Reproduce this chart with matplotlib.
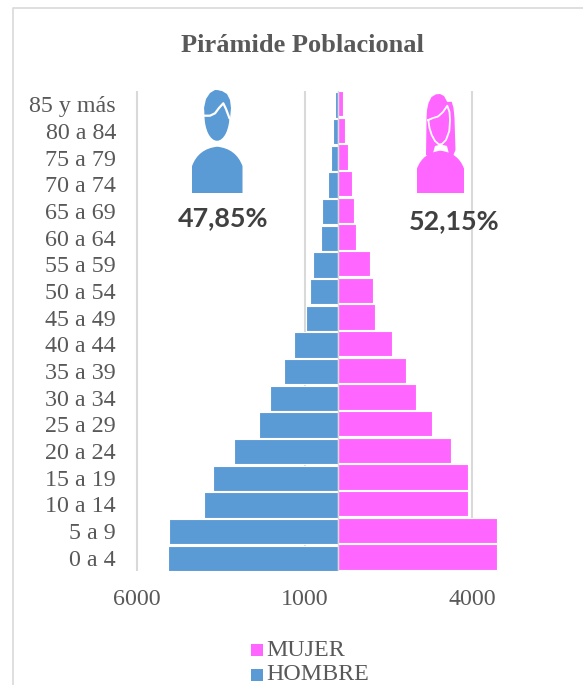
import matplotlib
matplotlib.use("Agg")
import matplotlib.pyplot as plt
from matplotlib.patches import Ellipse, PathPatch, Polygon, Rectangle
from matplotlib.path import Path
from matplotlib.ticker import FuncFormatter

grupos = ["0 a 4", "5 a 9", "10 a 14", "15 a 19", "20 a 24", "25 a 29", "30 a 34", "35 a 39", "40 a 44",
          "45 a 49", "50 a 54", "55 a 59", "60 a 64", "65 a 69", "70 a 74", "75 a 79", "80 a 84", "85 y más"]
hombre = [5090, 5045, 4000, 3730, 3105, 2360, 2030, 1610, 1315, 955, 835, 745, 510, 480, 300, 220, 140, 105]
mujer = [4760, 4760, 3895, 3880, 3360, 2820, 2330, 2015, 1600, 1090, 1045, 955, 540, 490, 430, 300, 195, 135]
ticks_x = [-6000, -1000, 4000]

AZUL = "#5B9BD5"
ROSA = "#FF66FF"
GRIS = "#D9D9D9"
TEXTO = "#595959"
SERIF = "Liberation Serif"
W, H = 583, 685

fig = plt.figure(figsize=(W / 100, H / 100), dpi=100)

# eje principal, colocado en pixeles: 6000 en x=137, 4000 en x=472
ax = fig.add_axes([127 / W, (H - 571) / H, (505.5 - 127) / W, 480 / H])
ax.set_xlim(-6300, 5000)
ax.set_ylim(-0.5, len(grupos) - 0.5)
for s in ax.spines.values():
    s.set_visible(False)

pos = list(range(len(grupos)))
for t in ticks_x:
    ax.axvline(t, color=GRIS, lw=1.5, zorder=1)
ax.barh([p - 0.03 for p in pos], [-v for v in hombre], height=0.95, color=AZUL, edgecolor="white", lw=0.8, zorder=2)
ax.barh([p + 0.03 for p in pos], mujer, height=0.95, color=ROSA, edgecolor="white", lw=0.8, zorder=2)
ax.axvline(0, color=GRIS, lw=1, zorder=3)

ax.set_yticks(pos)
ax.set_yticklabels(grupos, fontfamily=SERIF, fontsize=17.3, color=TEXTO)
ax.set_xticks(ticks_x)
ax.xaxis.set_major_formatter(FuncFormatter(lambda v, _: f"{abs(v):.0f}"))
for lab in ax.get_xticklabels():
    lab.set_fontfamily(SERIF)
    lab.set_fontsize(17.3)
    lab.set_color(TEXTO)
ax.tick_params(axis="y", length=0, pad=8)
ax.tick_params(axis="x", length=0, pad=13)

# capa en pixeles para marco, iconos y textos sueltos
ov = fig.add_axes([0, 0, 1, 1], facecolor="none", zorder=5)
ov.set_xlim(0, W)
ov.set_ylim(H, 0)
ov.axis("off")

ov.plot([12.5, 12.5, W], [H, 7.5, 7.5], color=GRIS, lw=1.2)

ov.text(302, 45, "Pirámide Poblacional", family=SERIF, weight="bold", fontsize=19, color=TEXTO, ha="center", va="center")
ov.text(223.5, 218, "47,85%", family="Lato", weight="bold", fontsize=19.4, color="#404040", ha="center", va="center")
ov.text(454, 221, "52,15%", family="Lato", weight="bold", fontsize=19.4, color="#404040", ha="center", va="center")

# leyenda
ov.add_patch(Rectangle((251, 644), 12, 12, color=ROSA, lw=0))
ov.add_patch(Rectangle((251, 669), 12, 12, color=AZUL, lw=0))
ov.text(266, 650, "MUJER", family=SERIF, fontsize=17.3, color=TEXTO, va="center")
ov.text(266, 674, "HOMBRE", family=SERIF, fontsize=17.3, color=TEXTO, va="center")


def cuerpo(x0, x1, ytop, ybot, color):
    r = (x1 - x0) / 2
    cx = (x0 + x1) / 2
    hombro = ytop + (ybot - ytop) * 0.42
    verts = [(x0, ybot), (x0, hombro), (x0 + r * 0.25, ytop + 2), (cx, ytop), (x1 - r * 0.25, ytop + 2),
             (x1, hombro), (x1, hombro), (x1, ybot), (x0, ybot)]
    codes = [Path.MOVETO, Path.LINETO, Path.CURVE3, Path.CURVE3, Path.CURVE3, Path.CURVE3,
             Path.LINETO, Path.LINETO, Path.CLOSEPOLY]
    ov.add_patch(PathPatch(Path(verts, codes), facecolor=color, edgecolor="none"))


# icono hombre
cuerpo(192, 242.5, 146.7, 193, AZUL)
ov.add_patch(Ellipse((217, 115.5), 25, 50.5, color=AZUL, lw=0))
ov.add_patch(Polygon([(205, 116), (204, 108), (206, 99), (210, 93), (215, 90), (222, 91), (227, 94), (230, 100),
                      (231, 108), (230, 119), (226, 112), (222, 104), (215, 112)], color=AZUL, lw=0))
ov.plot([203.3, 210, 215, 219, 223.3, 226, 229.5], [115.7, 115.7, 113.3, 108, 103.3, 109, 118.3],
        color="white", lw=1.6, solid_capstyle="round", solid_joinstyle="round")

# icono mujer
cuerpo(417, 464, 150.7, 193, ROSA)
pelo = [(426, 155), (426.3, 135), (426.5, 118), (427, 110), (428.5, 103), (431.5, 97), (436, 94.3), (440, 94), (444, 96),
        (447.3, 102), (451.7, 101.7), (453.5, 108), (454.5, 118), (455, 135), (455.5, 150), (453, 156), (449, 154),
        (447, 146), (441, 144.5), (435, 146), (433, 153), (429, 156)]
ov.add_patch(Polygon(pelo, color=ROSA, lw=0))
cara_x = [428.3, 433, 438, 443, 447.3, 449.5, 450, 449.3, 446, 442, 439, 435, 431.7, 429.5, 428.3]
cara_y = [120, 118, 116.5, 112, 105.7, 112, 120, 131, 140, 144, 144.5, 141, 135, 128, 120]
ov.plot(cara_x, cara_y, color="white", lw=1.3, solid_joinstyle="round")

fig.savefig("out.png", dpi=100, facecolor="white")
